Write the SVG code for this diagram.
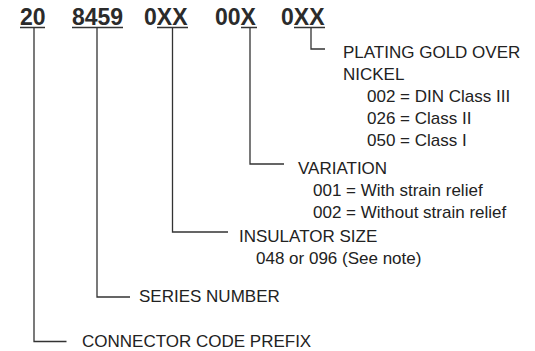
<svg xmlns="http://www.w3.org/2000/svg" width="535" height="351" viewBox="0 0 535 351">
<style>
.hd{font-family:"Liberation Sans",Arial,sans-serif;font-size:23px;font-weight:bold;fill:#2b2b2b}
.lb{font-family:"Liberation Sans",Arial,sans-serif;font-size:17px;fill:#222}
.ln{fill:none;stroke:#333;stroke-width:1.3}
</style>
<rect width="535" height="351" fill="#fff"/>
<g id="code">
<text class="hd" x="20" y="25">20</text>
<text class="hd" x="72" y="25">8459</text>
<text class="hd" x="144" y="25">0XX</text>
<text class="hd" x="215" y="25">00X</text>
<text class="hd" x="281" y="25">0XX</text>
</g>
<g id="connectors">
<path class="ln" d="M20 27.5H45M72 27.5H123M157 27.5H188M241 27.5H257M294 27.5H325"/>
<path class="ln" d="M311 28V49H325"/>
<path class="ln" d="M250 28V164H284"/>
<path class="ln" d="M172.5 28V232H228"/>
<path class="ln" d="M97 28V297H130"/>
<path class="ln" d="M34 28V341.5H66.5"/>
</g>
<g id="plating">
<text class="lb" x="343" y="58">PLATING GOLD OVER</text>
<text class="lb" x="343" y="80">NICKEL</text>
<text class="lb" x="367" y="102">002 = DIN Class III</text>
<text class="lb" x="367" y="124">026 = Class II</text>
<text class="lb" x="367" y="146">050 = Class I</text>
</g>
<g id="variation">
<text class="lb" x="298" y="174">VARIATION</text>
<text class="lb" x="313" y="196">001 = With strain relief</text>
<text class="lb" x="313" y="218">002 = Without strain relief</text>
</g>
<g id="insulator">
<text class="lb" x="239" y="242">INSULATOR SIZE</text>
<text class="lb" x="256" y="264">048 or 096 (See note)</text>
</g>
<g id="series">
<text class="lb" x="139" y="302">SERIES NUMBER</text>
</g>
<g id="prefix">
<text class="lb" x="82" y="347">CONNECTOR CODE PREFIX</text>
</g>
</svg>
